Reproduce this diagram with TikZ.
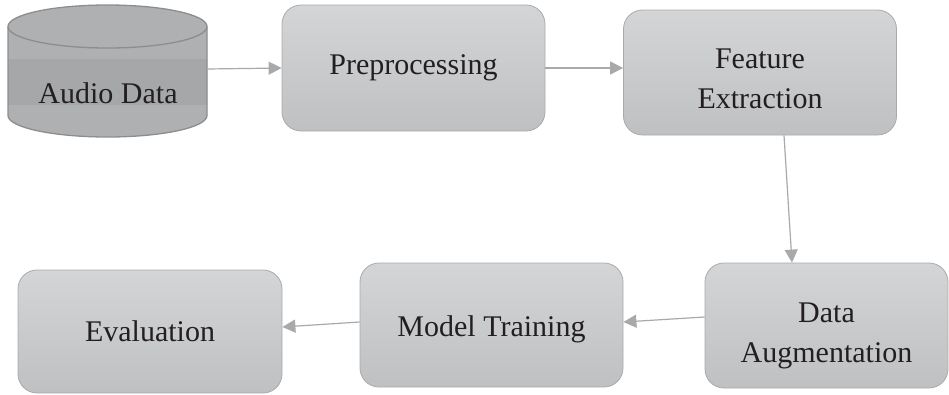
\documentclass[tikz,border=0pt]{standalone}
\usepackage{fontspec}
\setmainfont{Liberation Serif}
\usetikzlibrary{arrows.meta}
\definecolor{boxtop}{HTML}{D4D5D7}
\definecolor{boxbot}{HTML}{BFC0C2}
\definecolor{boxline}{HTML}{A9AAAC}
\definecolor{arrowc}{HTML}{A8A9AB}
\definecolor{cylfill}{HTML}{AFB0B2}
\definecolor{cylband}{HTML}{A6A7A9}
\definecolor{cylline}{HTML}{8C8D8F}
\definecolor{txt}{HTML}{231F20}
\newcommand{\twolines}[3]{\raisebox{#3}[\height][\depth]{\begin{tabular}{@{}c@{}}#1\\[2pt]#2\end{tabular}}}
\newcommand{\lowered}[2]{\raisebox{#2}[\height][\depth]{#1}}
\tikzset{
  procbox/.style={draw=boxline, line width=0.8pt, rounded corners=19pt,
    top color=boxtop, bottom color=boxbot, align=center,
    font=\fontsize{30}{38}\selectfont, text=txt, inner sep=0pt},
  flow/.style={draw=arrowc, line width=1.2pt, -{Triangle[length=13pt,width=13pt]}},
  lbl/.style={font=\fontsize{30}{38}\selectfont, text=txt}
}
\begin{document}
\begin{tikzpicture}[x=1pt,y={(0pt,-1pt)}]
\useasboundingbox (0,0) rectangle (949,394);
% cylinder
\begin{scope}
  \clip (8,26.5) -- (8,115.5) arc[start angle=180,end angle=0,x radius=99.5,y radius=21.5] -- (207,26.5) -- cycle;
  \fill[cylfill] (0,0) rectangle (220,140);
  \fill[cylband] (0,59) rectangle (220,105);
\end{scope}
\fill[cylfill] (107.5,26.5) ellipse[x radius=99.5,y radius=21.5];
\draw[cylline, line width=1.3pt] (8,26.5) -- (8,115.5) arc[start angle=180,end angle=0,x radius=99.5,y radius=21.5] -- (207,26.5);
\draw[cylline, line width=1.3pt] (107.5,26.5) ellipse[x radius=99.5,y radius=21.5];
\node[minimum width=199pt, minimum height=132pt, inner sep=0pt] (audio) at (107.5,71) {};
\node[lbl] (audiotxt) at (108,93) {Audio Data};

\node[procbox, minimum width=263pt, minimum height=126pt] (pre) at (413.5,68) {Preprocessing};
\node[procbox, minimum width=273pt, minimum height=125pt] (feat) at (760,72.5) {\twolines{Feature}{Extraction}{-8pt}};
\node[procbox, minimum width=243pt, minimum height=125pt] (aug) at (826.5,325.5) {\twolines{Data}{Augmentation}{-9pt}};
\node[procbox, minimum width=263pt, minimum height=124pt] (model) at (491.5,325) {\lowered{Model Training}{-4pt}};
\node[procbox, minimum width=264pt, minimum height=123pt] (eval) at (150,331.5) {Evaluation};

\draw[flow] ([yshift=2pt]audio.east) -- (pre.west);
\draw[flow] (pre.east) -- ([yshift=4.5pt]feat.west);
\draw[flow] ([xshift=24pt]feat.south) -- ([xshift=-34.5pt]aug.north);
\draw[flow] ([yshift=8.5pt]aug.west) -- ([yshift=3pt]model.east);
\draw[flow] ([yshift=3pt]model.west) -- ([yshift=4.5pt]eval.east);
\end{tikzpicture}
\end{document}
